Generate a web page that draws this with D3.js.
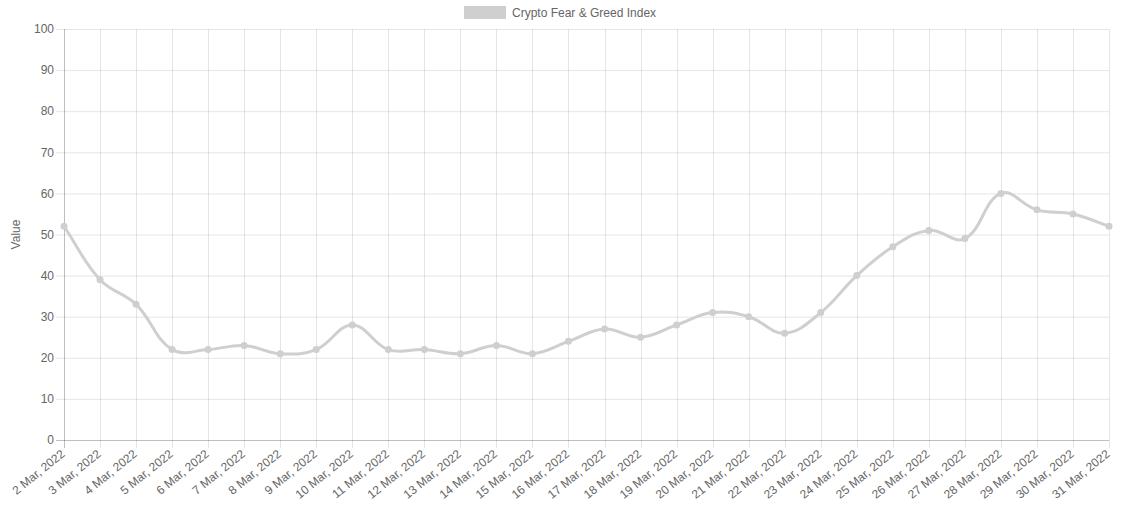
<!DOCTYPE html>
<html><head><meta charset="utf-8">
<script src="https://cdn.jsdelivr.net/npm/d3@7"></script>
<style>body{margin:0;background:#fff;}svg{display:block;font-family:"Liberation Sans",Arial,Helvetica,sans-serif;}</style>
</head><body><svg id="c" width="1124" height="507"></svg>
<script>
const categories = ["2 Mar, 2022","3 Mar, 2022","4 Mar, 2022","5 Mar, 2022","6 Mar, 2022","7 Mar, 2022","8 Mar, 2022","9 Mar, 2022","10 Mar, 2022","11 Mar, 2022","12 Mar, 2022","13 Mar, 2022","14 Mar, 2022","15 Mar, 2022","16 Mar, 2022","17 Mar, 2022","18 Mar, 2022","19 Mar, 2022","20 Mar, 2022","21 Mar, 2022","22 Mar, 2022","23 Mar, 2022","24 Mar, 2022","25 Mar, 2022","26 Mar, 2022","27 Mar, 2022","28 Mar, 2022","29 Mar, 2022","30 Mar, 2022","31 Mar, 2022"];
const values = [52,39,33,22,22,23,21,22,28,22,22,21,23,21,24,27,25,28,31,30,26,31,40,47,51,49,60,56,55,52];
const yTicks = [0,10,20,30,40,50,60,70,80,90,100];
const seriesName = "Crypto Fear & Greed Index";

const svg = d3.select("#c");
const L = 64, R = 1109, T = 29, B = 440;
const x = d3.scalePoint().domain(categories).range([L, R]);
const y = d3.scaleLinear().domain([0, 100]).range([B, T]);
const grid = "rgba(0,0,0,0.1)";
const txt = "#666";

const g = svg.append("g");
yTicks.forEach(t => {
  g.append("line").attr("x1", L - 8).attr("x2", R).attr("y1", y(t) + 0.5).attr("y2", y(t) + 0.5)
    .attr("stroke", t === 0 ? "rgba(0,0,0,0.25)" : grid).attr("stroke-width", 1);
  g.append("text").attr("x", L - 10).attr("y", y(t)).attr("dy", "0.35em").attr("text-anchor", "end")
    .attr("font-size", 12).attr("fill", txt).text(t);
});
categories.forEach((c, i) => {
  const xx = Math.round(x(c)) + 0.5;
  g.append("line").attr("x1", xx).attr("x2", xx).attr("y1", T).attr("y2", B + 8)
    .attr("stroke", i === 0 ? "rgba(0,0,0,0.25)" : grid).attr("stroke-width", 1);
  g.append("text").attr("transform", `translate(${x(c) - 1},${B + 12}) rotate(-39)`)
    .attr("text-anchor", "end").attr("dy", "0.35em").attr("font-size", 12).attr("fill", txt).text(c);
});

svg.append("text").attr("transform", `translate(20,${(T + B) / 2}) rotate(-90)`)
  .attr("text-anchor", "middle").attr("font-size", 12).attr("fill", txt).text("Value");

const pts = values.map((v, i) => [x(categories[i]), y(v)]);
const t = 0.4;
const cps = pts.map((p, i) => {
  const prev = pts[i - 1] || p, next = pts[i + 1] || p;
  const d01 = Math.hypot(p[0] - prev[0], p[1] - prev[1]);
  const d12 = Math.hypot(next[0] - p[0], next[1] - p[1]);
  let s01 = d01 / (d01 + d12), s12 = d12 / (d01 + d12);
  if (isNaN(s01)) s01 = 0; if (isNaN(s12)) s12 = 0;
  const fa = t * s01, fb = t * s12;
  const cap = q => [Math.max(L, Math.min(R, q[0])), Math.max(T, Math.min(B, q[1]))];
  return {
    prev: cap([p[0] - fa * (next[0] - prev[0]), p[1] - fa * (next[1] - prev[1])]),
    next: cap([p[0] + fb * (next[0] - prev[0]), p[1] + fb * (next[1] - prev[1])])
  };
});
const path = d3.path();
path.moveTo(pts[0][0], pts[0][1]);
for (let i = 1; i < pts.length; i++) {
  path.bezierCurveTo(cps[i - 1].next[0], cps[i - 1].next[1], cps[i].prev[0], cps[i].prev[1], pts[i][0], pts[i][1]);
}
svg.append("path").attr("d", path.toString()).attr("fill", "none")
  .attr("stroke", "#cfcfcf").attr("stroke-width", 3);
svg.append("g").selectAll("circle").data(values).join("circle")
  .attr("cx", (d, i) => x(categories[i])).attr("cy", d => y(d)).attr("r", 3.5)
  .attr("fill", "#cfcfcf");

svg.append("rect").attr("x", 464).attr("y", 6).attr("width", 42).attr("height", 13).attr("fill", "#cfcfcf");
svg.append("text").attr("x", 512).attr("y", 12.5).attr("dy", "0.35em").attr("font-size", 12).attr("fill", txt).text(seriesName);
</script></body></html>
